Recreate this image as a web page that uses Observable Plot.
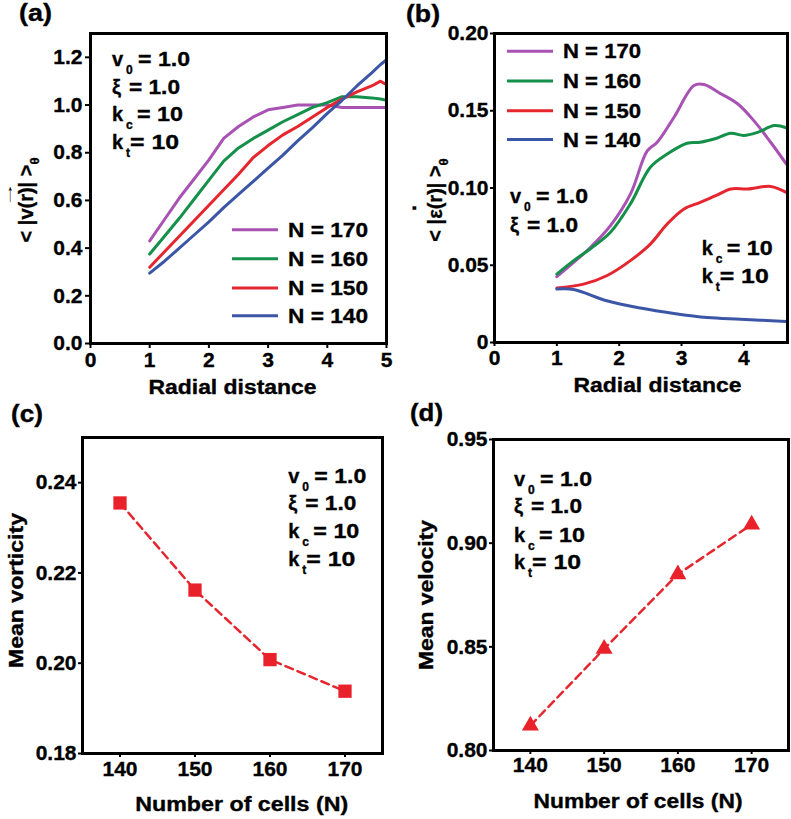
<!DOCTYPE html>
<html><head><meta charset="utf-8">
<script src="https://cdn.jsdelivr.net/npm/d3@7"></script>
<script src="https://cdn.jsdelivr.net/npm/@observablehq/plot@0.6"></script>
<style>
html,body{margin:0;padding:0;background:#fff;}
#wrap{position:relative;width:791px;height:819px;overflow:hidden;background:#fff;}
.panel{position:absolute;}
.panel svg{overflow:visible;}
.panel svg text{stroke:black;stroke-width:0.35px;}
.panel svg text.thin{stroke:none;}
</style></head><body><div id="wrap"></div>
<script>
// ---------- DATA ----------
const seriesNames = ["N = 170", "N = 160", "N = 150", "N = 140"];
const seriesColors = ["#a852b3", "#14904a", "#e5262e", "#3b56a6"];

// (a) mean speed vs radial distance
const rA = [1.0, 1.25, 1.5, 1.75, 2.0, 2.25, 2.5, 2.75, 3.0, 3.25, 3.5, 3.75, 4.0, 4.25, 4.5, 4.75, 4.9, 5.0];
const vA170 = [0.43, 0.52, 0.61, 0.69, 0.77, 0.86, 0.91, 0.95, 0.98, 0.99, 1.0, 1.0, 1.0, 0.99, 0.99, 0.99, 0.99, 0.99];
const vA160 = [0.375, 0.45, 0.525, 0.605, 0.685, 0.765, 0.82, 0.86, 0.895, 0.93, 0.96, 0.99, 1.01, 1.035, 1.035, 1.03, 1.025, 1.02];
const vA150 = [0.32, 0.385, 0.45, 0.515, 0.58, 0.645, 0.71, 0.78, 0.83, 0.875, 0.91, 0.95, 0.99, 1.025, 1.055, 1.08, 1.1, 1.085];
const vA140 = [0.295, 0.345, 0.40, 0.455, 0.51, 0.57, 0.625, 0.68, 0.735, 0.79, 0.85, 0.905, 0.965, 1.02, 1.08, 1.135, 1.17, 1.19];

// (b) mean strain rate vs radial distance
const rB170 = [1.0, 1.27, 1.55, 1.86, 2.18, 2.45, 2.61, 2.88, 3.2, 3.36, 3.63, 3.9, 4.16, 4.43, 4.68];
const eB170 = [0.0426, 0.0518, 0.062, 0.0756, 0.096, 0.124, 0.1296, 0.1458, 0.1663, 0.167, 0.161, 0.1545, 0.1436, 0.1296, 0.1156];
const rB160 = [1.0, 1.27, 1.55, 1.86, 2.18, 2.5, 2.77, 3.09, 3.3, 3.55, 3.79, 4.0, 4.22, 4.49, 4.68];
const eB160 = [0.0443, 0.053, 0.061, 0.0713, 0.0897, 0.1134, 0.122, 0.129, 0.1296, 0.132, 0.1354, 0.134, 0.136, 0.1404, 0.139];
const rB150 = [1.0, 1.43, 1.8, 2.18, 2.5, 2.77, 3.04, 3.3, 3.55, 3.79, 4.06, 4.43, 4.68];
const eB150 = [0.0352, 0.0378, 0.0432, 0.053, 0.0637, 0.0767, 0.0864, 0.0907, 0.095, 0.0994, 0.0994, 0.101, 0.0972];
const rB140 = [1.0, 1.27, 1.8, 2.34, 2.88, 3.41, 3.95, 4.68];
const eB140 = [0.0346, 0.0343, 0.027, 0.0223, 0.0188, 0.0162, 0.0151, 0.0136];

// (c), (d)
const cellsN = [140, 150, 160, 170];
const meanVorticity = [0.2355, 0.2162, 0.2008, 0.1938];
const meanVelocity = [0.812, 0.849, 0.885, 0.909];

// ticks
const xTicksA = [0, 1, 2, 3, 4, 5];
const yTicksA = [0, 0.2, 0.4, 0.6, 0.8, 1.0, 1.2];
const yTickLabelsA = ["0.0", "0.2", "0.4", "0.6", "0.8", "1.0", "1.2"];
const xTicksB = [0, 1, 2, 3, 4];
const yTicksB = [0, 0.05, 0.10, 0.15, 0.20];
const yTickLabelsB = ["0", "0.05", "0.10", "0.15", "0.20"];
const xTicksCD = [140, 150, 160, 170];
const yTicksC = [0.18, 0.20, 0.22, 0.24];
const yTickLabelsC = ["0.18", "0.20", "0.22", "0.24"];
const yTicksD = [0.80, 0.85, 0.90, 0.95];
const yTickLabelsD = ["0.80", "0.85", "0.90", "0.95"];

// ---------- BUILD ----------
const FONT = "'Liberation Sans', Arial, Helvetica, sans-serif";
const TICKFS = 21;
const wrap = document.getElementById("wrap");
const baseStyle = {background: "white", color: "black", fontFamily: FONT, fontWeight: "bold", fontSize: "21px", overflow: "visible"};

function labeler(ticks, labels) { return d => labels[ticks.findIndex(t => Math.abs(t - d) < 1e-9)] ?? String(d); }

function makePanel(left, top, opts) {
  const svg = Plot.plot({...opts, style: {...baseStyle}});
  const div = document.createElement("div");
  div.className = "panel";
  div.style.left = left + "px";
  div.style.top = top + "px";
  div.appendChild(svg);
  wrap.appendChild(div);
  return {svg: d3.select(svg), left, top};
}

function txt(p, x, y, str, o = {}) {
  const {size = 20, anchor = "start", len = null, rotate = 0, weight = "bold", cls = null} = o;
  const t = p.svg.append("text")
    .attr("transform", `translate(${x - p.left},${y - p.top})` + (rotate ? ` rotate(${rotate})` : ""))
    .attr("text-anchor", anchor).attr("font-size", size).attr("font-weight", weight)
    .attr("font-family", FONT).attr("fill", "black").text(str);
  if (cls) t.attr("class", cls);
  if (len) t.attr("textLength", len).attr("lengthAdjust", "spacingAndGlyphs");
  return t;
}

const paramLines = [
  {main: "v", sub: "0", eqDx: 26, rest: "= 1.0", len: 52},
  {main: "ξ", sub: "", eqDx: 17, rest: "= 1.0", len: 51},
  {main: "k", sub: "c", eqDx: 25, rest: "= 10", len: 46},
  {main: "k", sub: "t", eqDx: 18, rest: "= 10", len: 49}
];
function param(p, x0, y0, idx) {
  const L = paramLines[idx];
  txt(p, x0, y0, L.main);
  if (L.sub) txt(p, x0 + 14, y0 + 8, L.sub, {size: 12});
  txt(p, x0 + L.eqDx, y0, L.rest, {len: L.len});
}

function legend(p, x1, x2, xt, baselines, tl) {
  seriesNames.forEach((n, i) => {
    p.svg.append("line").attr("x1", x1 - p.left).attr("x2", x2 - p.left)
      .attr("y1", baselines[i] - 7 - p.top).attr("y2", baselines[i] - 7 - p.top)
      .attr("stroke", seriesColors[i]).attr("stroke-width", 3);
    txt(p, xt, baselines[i], n, {len: tl});
  });
}

function ylabelSub(p, x, y, main, sub) {
  const t = txt(p, x, y, main, {anchor: "middle", rotate: -90, size: 20});
  t.append("tspan").attr("dy", 6).attr("font-size", 13).text(sub);
  return t;
}

function axes(xt, xfmt, yt, yfmt, xs, xp, ys, yp) {
  return [
    Plot.axisX({ticks: xt, tickFormat: xfmt, tickSize: xs, tickPadding: xp, strokeWidth: 2, label: null, fontSize: TICKFS, fontWeight: "bold"}),
    Plot.axisY({ticks: yt, tickFormat: yfmt, tickSize: ys, tickPadding: yp, strokeWidth: 2, label: null, fontSize: TICKFS, fontWeight: "bold"})
  ];
}

// ----- Panel (a) -----
const dataA = [vA170, vA160, vA150, vA140].flatMap((vs, i) => rA.map((r, j) => ({r, v: vs[j], N: seriesNames[i]})));
const pA = makePanel(0, 0, {
  width: 395, height: 410, marginLeft: 90, marginRight: 9, marginTop: 33, marginBottom: 67,
  x: {domain: [0, 5]}, y: {domain: [0, 1.3]},
  color: {domain: seriesNames, range: seriesColors},
  marks: [
    Plot.line(dataA, {x: "r", y: "v", stroke: "N", strokeWidth: 3}),
    ...axes(xTicksA, d => String(d), yTicksA, labeler(yTicksA, yTickLabelsA), 5, 4, 5, 3),
    Plot.frame({stroke: "black", strokeWidth: 3})
  ]
});
txt(pA, 19, 21, "(a)", {size: 23, len: 33});
txt(pA, 232.5, 394, "Radial distance", {anchor: "middle", len: 168});
ylabelSub(pA, 33, 200, "< |v(r)| >", "θ");
txt(pA, 12, 194, "→", {anchor: "middle", rotate: -90, size: 12, weight: "normal", len: 26, cls: "thin"});
[66, 93.5, 121, 148.5].forEach((y, i) => param(pA, 112, y, i));
legend(pA, 232, 278, 288, [236.7, 265.7, 295, 322.7], 80);

// ----- Panel (b) -----
const rBs = [rB170, rB160, rB150, rB140], eBs = [eB170, eB160, eB150, eB140];
const dataB = rBs.flatMap((rs, i) => rs.map((r, j) => ({r, e: eBs[i][j], N: seriesNames[i]})));
const pB = makePanel(395, 0, {
  width: 396, height: 410, marginLeft: 99, marginRight: 4, marginTop: 33, marginBottom: 68,
  x: {domain: [0, 4.7]}, y: {domain: [0, 0.2]},
  color: {domain: seriesNames, range: seriesColors},
  marks: [
    Plot.line(dataB, {x: "r", y: "e", stroke: "N", strokeWidth: 3, curve: "catmull-rom"}),
    ...axes(xTicksB, d => String(d), yTicksB, labeler(yTicksB, yTickLabelsB), 4, 4, 4, 2),
    Plot.frame({stroke: "black", strokeWidth: 3})
  ]
});
txt(pB, 406, 22, "(b)", {size: 23, len: 34});
txt(pB, 657.5, 391.5, "Radial distance", {anchor: "middle", len: 168});
ylabelSub(pB, 442, 200, "< |ε(r)| >", "θ");
txt(pB, 416, 208, ".", {anchor: "middle", rotate: -90, size: 22});
param(pB, 510, 203.3, 0);
param(pB, 510, 231.7, 1);
param(pB, 701.7, 255, 2);
param(pB, 701.7, 282.7, 3);
legend(pB, 507, 553, 563, [58.3, 88, 117.7, 146.5], 78);

// ----- Panel (c) -----
const dataC = cellsN.map((n, i) => ({n, w: meanVorticity[i]}));
const pC = makePanel(0, 410, {
  width: 395, height: 409, marginLeft: 82, marginRight: 13, marginTop: 27, marginBottom: 66,
  x: {domain: [135, 175]}, y: {domain: [0.18, 0.25]},
  marks: [
    Plot.line(dataC, {x: "n", y: "w", stroke: "#e5262e", strokeWidth: 2.5, strokeDasharray: "8,5"}),
    Plot.dot(dataC, {x: "n", y: "w", symbol: "square", r: 7.5, fill: "#e8212b", stroke: "none"}),
    ...axes(xTicksCD, d => String(d), yTicksC, labeler(yTicksC, yTickLabelsC), 4, 4, 4, 2),
    Plot.frame({stroke: "black", strokeWidth: 3})
  ]
});
txt(pC, 11, 422, "(c)", {size: 23, len: 32});
txt(pC, 241.7, 811, "Number of cells (N)", {anchor: "middle", len: 213});
txt(pC, 23, 590.5, "Mean vorticity", {anchor: "middle", rotate: -90, len: 155});
[482.7, 510.2, 538.3, 566].forEach((y, i) => param(pC, 288.3, y, i));

// ----- Panel (d) -----
const dataD = cellsN.map((n, i) => ({n, v: meanVelocity[i]}));
const pD = makePanel(395, 410, {
  width: 396, height: 409, marginLeft: 98, marginRight: 3, marginTop: 29, marginBottom: 69,
  x: {domain: [135, 175]}, y: {domain: [0.80, 0.95]},
  marks: [
    Plot.line(dataD, {x: "n", y: "v", stroke: "#e5262e", strokeWidth: 2.5, strokeDasharray: "8,5"}),
    Plot.dot(dataD, {x: "n", y: "v", symbol: "triangle", r: 6.3, fill: "#e8212b", stroke: "none"}),
    ...axes(xTicksCD, d => String(d), yTicksD, labeler(yTicksD, yTickLabelsD), 4, 3, 4, 2),
    Plot.frame({stroke: "black", strokeWidth: 3})
  ]
});
txt(pD, 410, 421, "(d)", {size: 23, len: 33});
txt(pD, 638, 808.3, "Number of cells (N)", {anchor: "middle", len: 209});
txt(pD, 433, 595, "Mean velocity", {anchor: "middle", rotate: -90, len: 150});
[486, 513.3, 541.7, 569.3].forEach((y, i) => param(pD, 514, y, i));
</script>
</body></html>
